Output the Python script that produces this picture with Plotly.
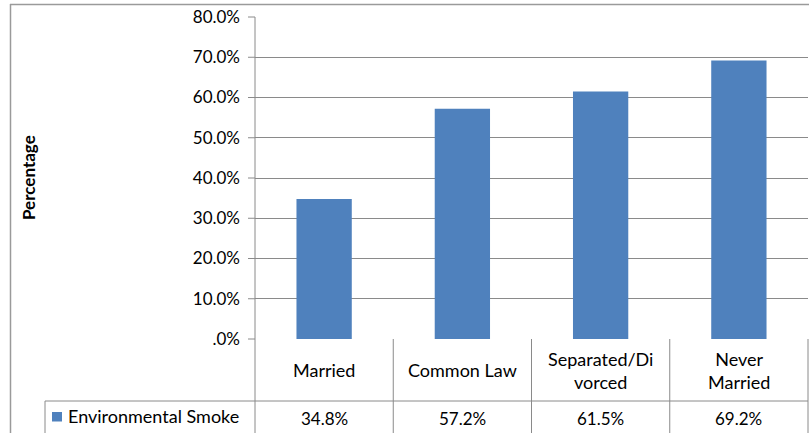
import plotly.graph_objects as go

categories = ["Married", "Common Law", "Separated/Divorced", "Never Married"]
category_labels = ["Married", "Common Law", "Separated/Di<br>vorced", "Never<br>Married"]
values = [34.8, 57.2, 61.5, 69.2]
series_name = "Environmental Smoke"
tick_vals = [0, 10, 20, 30, 40, 50, 60, 70, 80]
tick_text = [".0%", "10.0%", "20.0%", "30.0%", "40.0%", "50.0%", "60.0%", "70.0%", "80.0%"]

W, H = 809, 433
L, R, T, B = 255, 808, 17, 339
FONT = "Lato, Open Sans, sans-serif"
GRID = "#8a8a8a"
BAR = "#4F81BD"

def px(x):
    return (x - L) / (R - L)

def py(y):
    return (B - y) / (B - T)

fig = go.Figure()
fig.add_trace(go.Bar(x=list(range(len(categories))), y=values, marker=dict(color=BAR, line=dict(width=0)),
                     name=series_name, showlegend=False, hoverinfo="skip"))

shapes = []
def line(x0, y0, x1, y1, color=GRID, w=1):
    shapes.append(dict(type="line", xref="paper", yref="paper", x0=px(x0), y0=py(y0), x1=px(x1), y1=py(y1),
                       line=dict(color=color, width=w)))

# outer frame
line(10, 4.5, 809, 4.5, "#9a9a9a", 1.5)
line(10.5, 4, 10.5, 440, "#9a9a9a", 1.5)
# tick marks
for v in tick_vals:
    yp = B - v / 80 * (B - T)
    line(248, yp, L, yp)
# table lines
n = len(categories)
cw = (R - L) / n
for i in range(n + 1):
    x = L + i * cw
    line(x, B, x, 440)
line(45, 401, R, 401)
line(45, 401, 45, 440)
line(L, T, L, B)

ann = []
for i, lab in enumerate(category_labels):
    ann.append(dict(x=px(L + (i + 0.5) * cw), y=py(370), xref="paper", yref="paper", text=lab, showarrow=False,
                    font=dict(family=FONT, size=18, color="#000"), xanchor="center", yanchor="middle"))
    ann.append(dict(x=px(L + (i + 0.5) * cw), y=py(418), xref="paper", yref="paper", text=f"{values[i]:.1f}%",
                    showarrow=False, font=dict(family=FONT, size=17, color="#000"), xanchor="center", yanchor="middle"))
ann.append(dict(x=px(66), y=py(416), xref="paper", yref="paper", text=series_name, showarrow=False,
                font=dict(family=FONT, size=18, color="#000"), xanchor="left", yanchor="middle"))
shapes.append(dict(type="rect", xref="paper", yref="paper", x0=px(52), x1=px(62), y0=py(412), y1=py(421.5),
                   fillcolor=BAR, line=dict(width=0)))
ann.append(dict(x=px(28), y=py(178), xref="paper", yref="paper", text="<b>Percentage</b>", showarrow=False,
                textangle=-90, font=dict(family=FONT, size=17, color="#000"), xanchor="center", yanchor="middle"))

fig.update_layout(
    width=W, height=H,
    margin=dict(l=L, r=W - R, t=T, b=H - B, pad=0),
    paper_bgcolor="white", plot_bgcolor="white",
    bargap=0.6,
    showlegend=False,
    shapes=shapes, annotations=ann,
    xaxis=dict(range=[-0.5, n - 0.5], showticklabels=False, showgrid=False, zeroline=False, showline=False, ticks=""),
    yaxis=dict(range=[0, 80], tickvals=tick_vals, ticktext=tick_text, showgrid=True, gridcolor=GRID, gridwidth=1,
               zeroline=False, showline=False, ticks="", ticklabelstandoff=14,
               tickfont=dict(family=FONT, size=17, color="#000")),
)
fig.write_html("out.html", config={"displayModeBar": False},
               post_script="document.body.style.margin='0';document.body.style.overflow='hidden';")
